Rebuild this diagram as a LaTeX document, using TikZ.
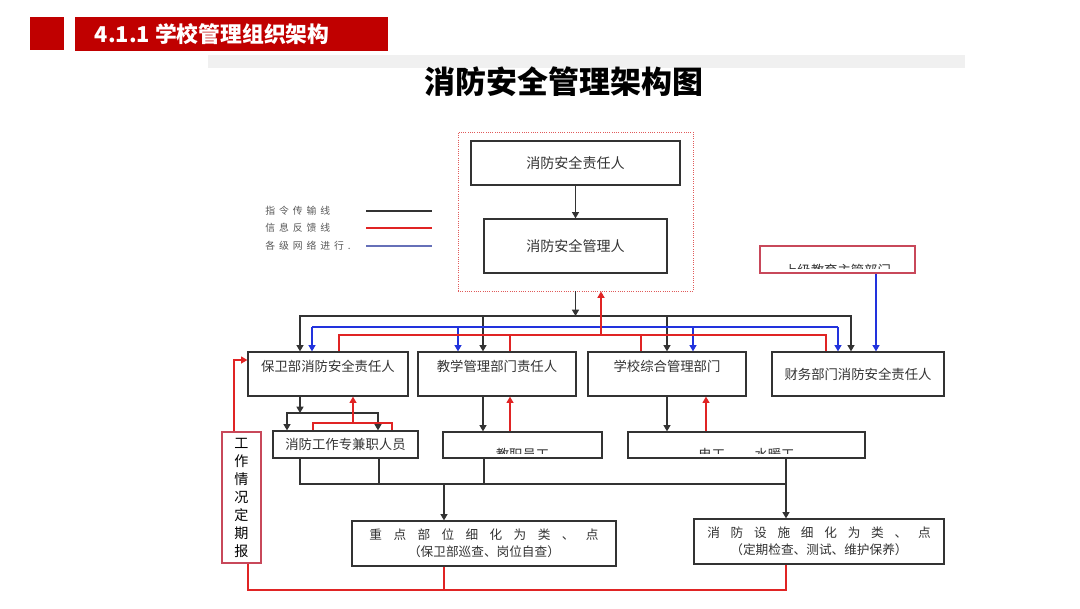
\documentclass[tikz,border=0pt]{standalone}
\usepackage{fontspec}
\setmainfont{Noto Sans CJK SC}
\usetikzlibrary{arrows.meta,positioning,calc}
\definecolor{bannerred}{HTML}{C00000}
\definecolor{boxgray}{HTML}{333333}
\definecolor{txtgray}{HTML}{333333}
\definecolor{fbred}{HTML}{E02424}
\definecolor{netblue}{HTML}{2233DD}
\definecolor{netpurple}{HTML}{6670B8}
\definecolor{framered}{HTML}{E05A5A}
\definecolor{rimred}{HTML}{C8485A}
\begin{document}
\begin{tikzpicture}[x=0.025cm, y=-0.025cm,
  box/.style={draw=boxgray, line width=0.9pt, inner sep=0pt, text=txtgray,
    font=\fontsize{9.5}{11}\selectfont},
  dept/.style={box, minimum width=3.95cm, minimum height=1.1cm, text depth=12pt},
  lowbox/.style={box, minimum height=0.65cm},
  cmd/.style={draw=boxgray, line width=0.8pt},
  fb/.style={draw=fbred, line width=0.8pt},
  net/.style={draw=netblue, line width=0.8pt},
  arr/.style={-{Triangle[length=4.5pt,width=5pt]}},
  legend/.style={anchor=west, inner sep=0pt, text=black!65,
    font=\fontsize{7}{8}\selectfont\addfontfeatures{LetterSpace=40}}
]
\useasboundingbox (0,0) rectangle (1080,608);
\fill[white] (0,0) rectangle (1080,608);

% heading
\fill[bannerred] (30,17) rectangle (64,50);
\fill[bannerred] (75,17) rectangle (388,51);
\node[anchor=west, text=white, font=\bfseries\fontsize{15.5}{18}\selectfont] (sec) at (90,34) {4.1.1 学校管理组织架构};
\fill[black!6] (208,55) rectangle (965,68);
\node[font=\bfseries\fontsize{22}{26}\selectfont] (title) at (564,82) {消防安全管理架构图};

% legend
\node[legend] (lcmd) at (265,211) {指令传输线};
\node[legend] (lfb) at (265,228) {信息反馈线};
\node[legend] (lnet) at (265,246) {各级网络进行.};
\draw[cmd] (366,0 |- lcmd.east) -- (432,0 |- lcmd.east);
\draw[fb] (366,0 |- lfb.east) -- (432,0 |- lfb.east);
\draw[draw=netpurple, line width=0.8pt] (366,0 |- lnet.east) -- (432,0 |- lnet.east);

% leadership
\node[draw=framered, densely dotted, line width=0.6pt, minimum width=5.875cm, minimum height=3.975cm] (frame) at (575.5,211.5) {};
\node[box, minimum width=5.225cm, minimum height=1.1cm, font=\fontsize{10}{12}\selectfont] (resp) at (575.5,163) {消防安全责任人};
\node[box, minimum width=4.575cm, minimum height=1.35cm, font=\fontsize{10}{12}\selectfont] (mgr) at (575.5,246) {消防安全管理人};
\draw[cmd, arr] (resp) -- (mgr);

\node[box, draw=rimred, line width=1pt, minimum width=3.875cm, minimum height=0.675cm] (upper) at (837.5,259.5) {};
\begin{scope}
  \clip (upper.north west) rectangle (upper.east |- 0,268.5);
  \node[box, draw=none] (uppertxt) at (837.5,270) {上级教育主管部门};
\end{scope}
\draw[draw=netpurple, line width=0.8pt] ($(upper.west)+(0,-5.5)$ -| frame.east) -- ($(upper.west)+(0,-5.5)$);

% departments
\node[dept, minimum width=4cm] (guard) at (328,374) {保卫部消防安全责任人};
\node[dept] (teach) at (497,374) {教学管理部门责任人};
\node[dept] (gen) at (667,374) {学校综合管理部门};
\node[box, minimum width=4.3cm, minimum height=1.1cm] (fin) at (858,374) {财务部门消防安全责任人};

\coordinate (bus) at (575.5,316);
\draw[cmd, arr] (frame.south) -- (bus);
\draw[cmd, arr] (bus) -| (300,0 |- guard.north);
\draw[cmd, arr] (bus) -| (483,0 |- teach.north);
\draw[cmd, arr] (bus) -| (gen.north);
\draw[cmd, arr] (bus) -| (851,0 |- fin.north);

\coordinate (netL) at (312,327);
\coordinate (netR) at (838,327);
\draw[net] (netL) -- (netR);
\draw[net, arr] (netL) -- (netL |- guard.north);
\draw[net, arr] (458,0 |- netL) -- (458,0 |- teach.north);
\draw[net, arr] (693,0 |- netL) -- (693,0 |- gen.north);
\draw[net, arr] (netR) -- (netR |- fin.north);
\draw[net, arr] (876,0 |- upper.south) -- (876,0 |- fin.north);

\coordinate (fbbus) at (601,335);
\draw[fb, arr] (fbbus) -- (fbbus |- frame.south);
\draw[fb] (339,0 |- guard.north) |- (fbbus) -| (826,0 |- fin.north);
\draw[fb] (510,0 |- teach.north) -- (510,0 |- fbbus);
\draw[fb] (641,0 |- gen.north) -- (641,0 |- fbbus);

% staff level
\node[lowbox, minimum width=3.625cm, minimum height=0.675cm] (duty) at (345.5,444.5) {消防工作专兼职人员};
\node[lowbox, minimum width=3.975cm] (staff) at (522.5,445) {};
\node[lowbox, minimum width=5.925cm] (tech) at (746.5,445) {};
\begin{scope}
  \clip (staff.north west) rectangle (tech.east |- 0,453);
  \node[box, draw=none] (stafftxt) at (522.5,454.5) {教职员工};
  \node[box, draw=none] (techtxt) at (746.5,454.5) {电工、\hspace{1.2em}水暖工};
\end{scope}

\coordinate (gd) at (300,413);
\draw[cmd, arr] (300,0 |- guard.south) -- (gd);
\draw[cmd, arr] (gd) -| (287,0 |- duty.north);
\draw[cmd, arr] (gd) -| (378,0 |- duty.north);
\coordinate (dg) at (353,423);
\draw[fb] (313,0 |- duty.north) |- (dg) -| (392,0 |- duty.north);
\draw[fb, arr] (dg) -- (dg |- guard.south);

\draw[cmd, arr] (483,0 |- teach.south) -- (483,0 |- staff.north);
\draw[fb, arr] (510,0 |- staff.north) -- (510,0 |- teach.south);
\draw[cmd, arr] (gen.south) -- (gen.south |- tech.north);
\draw[fb, arr] (706,0 |- tech.north) -- (706,0 |- gen.south);

% inspection level
\node[box, minimum width=6.6cm, minimum height=1.125cm, align=center, font=\fontsize{9}{12}\selectfont] (keyarea) at (484,543.5)
  {{\addfontfeatures{LetterSpace=90}重点部位细化为类、点}\\（保卫部巡查、岗位自查）};
\node[box, minimum width=6.25cm, minimum height=1.125cm, align=center, font=\fontsize{9}{12}\selectfont] (facility) at (819,541.5)
  {{\addfontfeatures{LetterSpace=85}消防设施细化为类、点}\\（定期检查、测试、维护保养）};

\coordinate (kj) at (444,484);
\coordinate (fj) at (786,484);
\draw[cmd] (300,0 |- duty.south) |- (fj);
\draw[cmd] (379,0 |- duty.south) -- (379,0 |- kj);
\draw[cmd] (484,0 |- staff.south) -- (484,0 |- kj);
\draw[cmd, arr] (kj) -- (kj |- keyarea.north);
\draw[cmd, arr] (fj |- tech.south) -- (fj |- facility.north);

% report back
\node[box, draw=rimred, line width=1pt, text=black, minimum width=0.975cm, minimum height=3.275cm, align=center, font=\fontsize{10}{12.8}\selectfont] (report) at (241.5,497.5) {工\\作\\情\\况\\定\\期\\报};
\draw[fb, arr] (234,0 |- report.north) |- ($(guard.west)+(0,-14)$);
\coordinate (fbbot) at (786,590);
\draw[fb] (248,0 |- report.south) |- (fbbot) -- (fbbot |- facility.south);
\draw[fb] (444,0 |- keyarea.south) -- (444,0 |- fbbot);
\end{tikzpicture}
\end{document}
